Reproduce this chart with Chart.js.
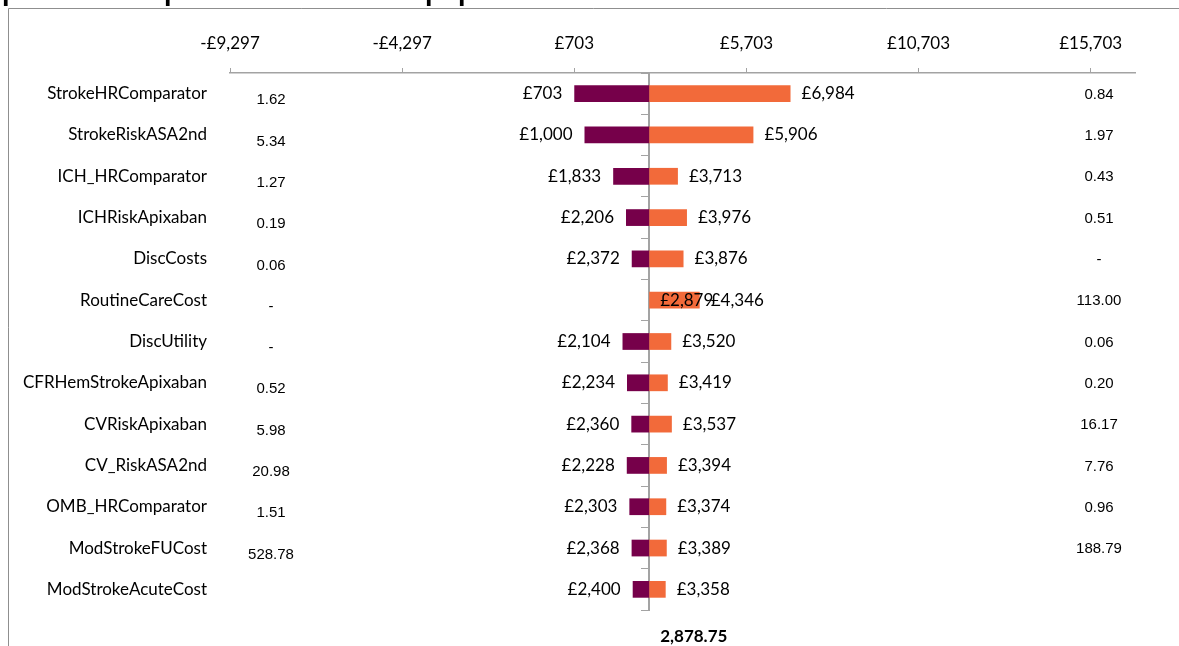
<!DOCTYPE html>
<html>
<head>
<meta charset="utf-8">
<script src="https://cdn.jsdelivr.net/npm/chart.js@4.4.1/dist/chart.umd.min.js"></script>
<style>
  html, body { margin: 0; padding: 0; background: #fff; }
  #wrap { position: relative; width: 1179px; height: 646px; overflow: hidden; }
</style>
</head>
<body>
<div id="wrap"><canvas id="tornado" width="1179" height="646"></canvas></div>
<script>
// ---------- Data ---------- //
const categories = [
  "StrokeHRComparator", "StrokeRiskASA2nd", "ICH_HRComparator", "ICHRiskApixaban",
  "DiscCosts", "RoutineCareCost", "DiscUtility", "CFRHemStrokeApixaban",
  "CVRiskApixaban", "CV_RiskASA2nd", "OMB_HRComparator", "ModStrokeFUCost", "ModStrokeAcuteCost"
];
const baseValue = 2878.75;
const lowResults  = [703, 1000, 1833, 2206, 2372, 2879, 2104, 2234, 2360, 2228, 2303, 2368, 2400];
const highResults = [6984, 5906, 3713, 3976, 3876, 4346, 3520, 3419, 3537, 3394, 3374, 3389, 3358];
const lowInputs  = ["1.62", "5.34", "1.27", "0.19", "0.06", "-", "-", "0.52", "5.98", "20.98", "1.51", "528.78", ""];
const highInputs = ["0.84", "1.97", "0.43", "0.51", "-", "113.00", "0.06", "0.20", "16.17", "7.76", "0.96", "188.79", ""];
const xTicks = [-9297, -4297, 703, 5703, 10703, 15703];
const titleText = "parameter inputs \u2013 ASA suitable population";

const axisGrey = '#a3a3a3';
const labelFont = '17px Lato, "Open Sans", sans-serif';

function money(v) {
  const n = Math.round(Math.abs(v)).toLocaleString('en-GB');
  return (v < 0 ? '-£' : '£') + n;
}

// ---------- Labels, side columns, title, frame ---------- //
const tornadoExtras = {
  id: 'tornadoExtras',
  beforeDraw(chart) {
    const ctx = chart.ctx;
    ctx.save();
    // frame
    ctx.strokeStyle = '#8f8f8f';
    ctx.lineWidth = 1;
    ctx.beginPath();
    ctx.moveTo(8.5, chart.height);
    ctx.lineTo(8.5, 8.5);
    ctx.lineTo(chart.width, 8.5);
    ctx.stroke();
    // title (clipped at the top of the picture)
    ctx.fillStyle = '#000';
    ctx.font = 'bold 27px "Liberation Sans", Arial, sans-serif';
    ctx.textAlign = 'left';
    ctx.textBaseline = 'alphabetic';
    ctx.fillText(titleText, 2, 0);
    ctx.restore();
  },
  afterDatasetsDraw(chart) {
    const ctx = chart.ctx;
    const xs = chart.scales.x;
    const ys = chart.scales.y;
    const basePx = xs.getPixelForValue(baseValue);
    ctx.save();
    ctx.fillStyle = '#000';
    ctx.textBaseline = 'middle';
    ctx.font = labelFont;

    chart.getDatasetMeta(0).data.forEach((bar, i) => {
      const px = xs.getPixelForValue(lowResults[i]);
      if (basePx - px > 2) {
        ctx.textAlign = 'right';
        ctx.fillText(money(lowResults[i]), px - 12, bar.y);
      } else {
        ctx.textAlign = 'left';
        ctx.fillText(money(lowResults[i]), basePx + 11, bar.y);
      }
    });
    chart.getDatasetMeta(1).data.forEach((bar, i) => {
      const px = xs.getPixelForValue(highResults[i]);
      ctx.textAlign = 'left';
      ctx.fillText(money(highResults[i]), px + 11, bar.y);
    });

    // input values either side
    ctx.font = '15px "Liberation Sans", Arial, sans-serif';
    ctx.textAlign = 'center';
    categories.forEach((c, i) => {
      const cy = ys.getPixelForValue(i);
      ctx.fillText(lowInputs[i], 271, cy + 6.5);
      ctx.fillText(highInputs[i], 1099, cy + 1);
    });

    // base case value under the axis
    ctx.font = 'bold 17px Lato, "Open Sans", sans-serif';
    ctx.textAlign = 'left';
    ctx.fillText(baseValue.toLocaleString('en-GB', { minimumFractionDigits: 2 }), basePx + 11, chart.chartArea.bottom + 27);
    ctx.restore();
  }
};

// ---------- Chart ---------- //
const ctx = document.getElementById('tornado').getContext('2d');
new Chart(ctx, {
  type: 'bar',
  data: {
    labels: categories,
    datasets: [
      {
        label: 'Low',
        data: lowResults.map(v => [baseValue, v]),
        backgroundColor: '#76004a',
        grouped: false,
        barPercentage: 0.405,
        categoryPercentage: 1.0
      },
      {
        label: 'High',
        data: highResults.map(v => [baseValue, v]),
        backgroundColor: '#f26a3a',
        grouped: false,
        barPercentage: 0.405,
        categoryPercentage: 1.0
      }
    ]
  },
  options: {
    indexAxis: 'y',
    responsive: false,
    animation: false,
    devicePixelRatio: 1,
    layout: { padding: { left: 8, right: 44, top: 34, bottom: 36 } },
    scales: {
      x: {
        position: 'top',
        min: -9297,
        max: 16990,
        afterBuildTicks: s => { s.ticks = xTicks.map(v => ({ value: v })); },
        afterFit: s => { s.height = 39; },
        grid: { drawOnChartArea: false, tickLength: 5, color: axisGrey },
        border: { color: axisGrey, width: 1.5 },
        ticks: {
          padding: 14,
          maxRotation: 0,
          autoSkip: false,
          color: '#000',
          font: { family: 'Lato', size: 17 },
          callback: v => money(v)
        }
      },
      y: {
        position: 'left',
        afterFit: s => { s.width = 222; },
        grid: { display: false, drawTicks: false },
        border: { display: false },
        ticks: { padding: 23, color: '#000', font: { family: 'Lato', size: 17 } }
      },
      yc: {
        axis: 'y',
        type: 'category',
        position: { x: baseValue },
        offset: true,
        grid: { drawOnChartArea: false, offset: true, tickLength: 7, color: axisGrey },
        border: { color: axisGrey, width: 2 },
        ticks: { display: false }
      }
    },
    plugins: {
      legend: { display: false },
      tooltip: { enabled: false }
    }
  },
  plugins: [tornadoExtras]
});
</script>
</body>
</html>
